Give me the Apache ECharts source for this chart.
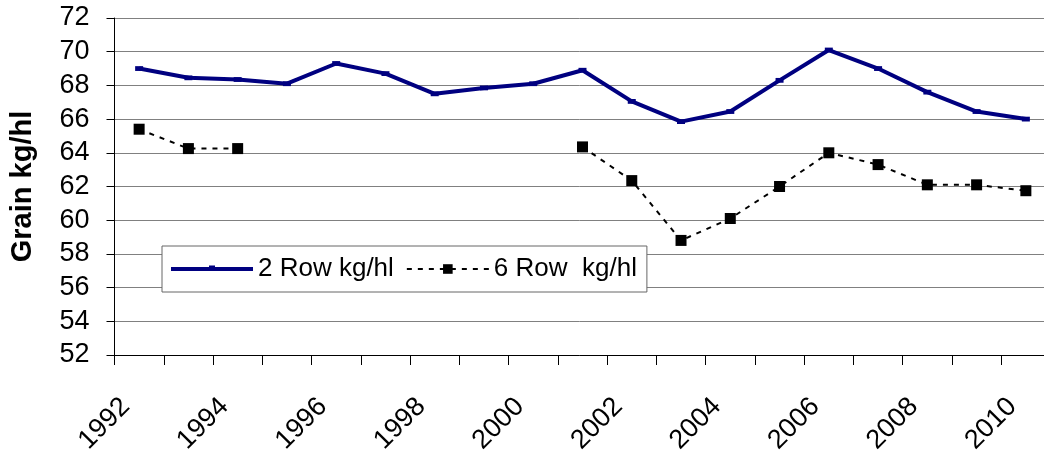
<!DOCTYPE html>
<html>
<head>
<meta charset="utf-8">
<script src="https://cdn.jsdelivr.net/npm/echarts@6/dist/echarts.min.js"></script>
<style>
html,body{margin:0;padding:0;background:#fff;}
#chart{width:1044px;height:452px;}
</style>
</head>
<body>
<div id="chart"></div>
<script>
var years = ['1992','1993','1994','1995','1996','1997','1998','1999','2000','2001','2002','2003','2004','2005','2006','2007','2008','2009','2010'];
var row2 = [69.0, 68.45, 68.35, 68.1, 69.3, 68.7, 67.5, 67.85, 68.1, 68.9, 67.05, 65.85, 66.45, 68.3, 70.1, 69.0, 67.6, 66.45, 66.0];
var row6 = [65.4, 64.25, 64.25, null, null, null, null, null, null, 64.35, 62.35, 58.8, 60.1, 62.0, 64.0, 63.3, 62.1, 62.1, 61.75];
var seriesNames = ['2 Row kg/hl', '6 Row  kg/hl'];
var yAxisTitle = 'Grain kg/hl';

var FONT = '"Liberation Sans", Arial, sans-serif';
// legend icon for the solid series: thick line with a tiny dash marker (bbox padded by degenerate moves)
var row2LegendIcon = 'path://M0,0 L0,0 M0,4 L38,4 L38,2.5 L44,2.5 L44,4 L82,4 L82,8 L0,8 Z M82,12 L82,12';
var chart = echarts.init(document.getElementById('chart'), null, {renderer: 'canvas'});
chart.setOption({
  animation: false,
  backgroundColor: '#ffffff',
  textStyle: {fontFamily: FONT},
  grid: {left: 114.5, top: 18, width: 936, height: 337, containLabel: false, outerBoundsMode: 'none'},
  legend: {
    left: 162, top: 246,
    orient: 'horizontal',
    data: [{name: seriesNames[0], icon: row2LegendIcon}, {name: seriesNames[1]}],
    itemWidth: 82, itemHeight: 12, itemGap: 12,
    padding: [10, 10, 10, 9],
    borderColor: '#666666', borderWidth: 1,
    backgroundColor: '#ffffff',
    lineStyle: {width: 'inherit'},
    textStyle: {fontFamily: FONT, fontSize: 26, color: '#000'}
  },
  xAxis: {
    type: 'category',
    data: years,
    boundaryGap: true,
    axisLine: {lineStyle: {color: '#000', width: 1}},
    axisTick: {show: true, interval: 0, length: 10, lineStyle: {color: '#000'}},
    axisLabel: {interval: 1, rotate: 45, margin: 34, fontSize: 27, color: '#000', fontFamily: FONT, padding: [0, 19, 11, 0]},
    splitLine: {show: false}
  },
  yAxis: {
    type: 'value',
    min: 52, max: 72, interval: 2,
    name: yAxisTitle,
    nameLocation: 'middle',
    nameGap: 77,
    nameRotate: 90,
    nameTextStyle: {fontFamily: FONT, fontSize: 29, fontWeight: 'bold', color: '#000'},
    axisLine: {show: true, lineStyle: {color: '#000', width: 1}},
    axisTick: {show: true, inside: false, length: 8, lineStyle: {color: '#000'}},
    axisLabel: {fontSize: 27, color: '#000', margin: 25, fontFamily: FONT},
    splitLine: {show: true, lineStyle: {color: '#808080', width: 1}}
  },
  series: [
    {
      name: seriesNames[0], type: 'line', data: row2,
      symbol: 'path://M0,0 L10,0 L10,6 L0,6 Z', symbolKeepAspect: true, symbolSize: 8, showSymbol: true,
      lineStyle: {color: '#000080', width: 4},
      itemStyle: {color: '#000080'},
      z: 3
    },
    {
      name: seriesNames[1], type: 'line', data: row6,
      connectNulls: false,
      symbol: 'rect', symbolSize: 11,
      lineStyle: {color: '#000000', width: 2, type: [5, 6]},
      itemStyle: {color: '#000000'},
      z: 2
    }
  ]
});
</script>
</body>
</html>
